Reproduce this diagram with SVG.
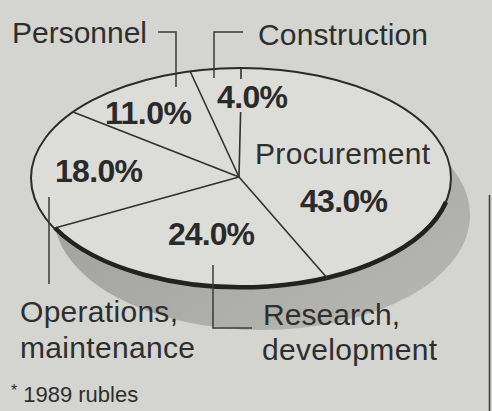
<svg xmlns="http://www.w3.org/2000/svg" width="492" height="411" viewBox="0 0 492 411">
  <defs>
    <linearGradient id="shade" x1="0" y1="0" x2="1" y2="1">
      <stop offset="0" stop-color="#9a9a96"/>
      <stop offset="1" stop-color="#b8b8b4"/>
    </linearGradient>
    <style>
      .lbl { font-family: "Liberation Sans", Arial, sans-serif; font-size: 30px; fill: #2e2e2e; }
      .pct { font-family: "Liberation Sans", Arial, sans-serif; font-size: 32px; font-weight: bold; fill: #2a2a2a; }
      .note { font-family: "Liberation Sans", Arial, sans-serif; font-size: 22px; fill: #2e2e2e; }
      .ln { stroke: #303030; stroke-width: 1.6; fill: none; }
      .lead { stroke: #3a3a3a; stroke-width: 1.5; fill: none; }
    </style>
  </defs>

  <rect width="492" height="411" fill="#d4d4d0"/>

  <!-- shadow -->
  <g id="shadow">
    <ellipse cx="262" cy="215" rx="208" ry="115" fill="url(#shade)"/>
  </g>

  <!-- pie -->
  <g id="pie">
    <ellipse cx="241" cy="178" rx="210" ry="110" fill="#dcdcd8" stroke="#2a2a2a" stroke-width="2"/>
    <path d="M 55 228 A 210 110 0 0 0 446 202" fill="none" stroke="#222" stroke-width="4.5"/>
  </g>

  <!-- connectors: spokes and leaders -->
  <g id="connectors">
    <line class="ln" x1="239" y1="177" x2="190" y2="71"/>
    <line class="ln" x1="241" y1="68" x2="241" y2="79"/>
    <line class="ln" x1="240.6" y1="112" x2="239" y2="177"/>
    <line class="ln" x1="239" y1="177" x2="73" y2="112"/>
    <line class="ln" x1="239" y1="177" x2="55" y2="228"/>
    <line class="ln" x1="239" y1="177" x2="328" y2="279"/>
    <polyline class="lead" points="158,32 176,32 176,87"/>
    <polyline class="lead" points="243,32 214,32 214,78"/>
    <line class="lead" x1="49" y1="197" x2="49" y2="284"/>
    <polyline class="lead" points="213,265 213,328 252,328"/>
    <line x1="489.5" y1="195" x2="489.5" y2="411" stroke="#3a3a3a" stroke-width="1.5"/>
  </g>

  <g id="personnel">
    <text class="lbl" x="12" y="43" textLength="135">Personnel</text>
    <text class="pct" x="105" y="124" textLength="87">11.0%</text>
  </g>
  <g id="construction">
    <text class="lbl" x="258" y="45" textLength="170">Construction</text>
    <text class="pct" x="217" y="108" textLength="71">4.0%</text>
  </g>
  <g id="procurement">
    <text class="lbl" x="255" y="164" textLength="175">Procurement</text>
    <text class="pct" x="300" y="212" textLength="88">43.0%</text>
  </g>
  <g id="operations">
    <text class="pct" x="55" y="182" textLength="88">18.0%</text>
    <text class="lbl" x="20" y="322" textLength="158">Operations,</text>
    <text class="lbl" x="20" y="358" textLength="175">maintenance</text>
  </g>
  <g id="research">
    <text class="pct" x="168" y="245" textLength="87">24.0%</text>
    <text class="lbl" x="263" y="325" textLength="137">Research,</text>
    <text class="lbl" x="262" y="360" textLength="175">development</text>
  </g>
  <g id="footnote">
    <text class="note" x="11" y="402"><tspan font-size="16" dy="-6">*</tspan><tspan dx="6" dy="6">1989 rubles</tspan></text>
  </g>
</svg>
